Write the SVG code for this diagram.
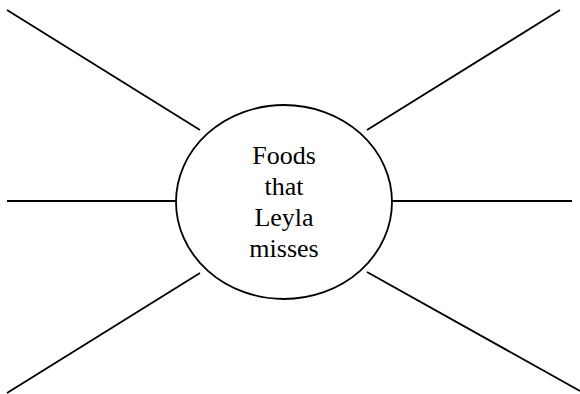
<svg xmlns="http://www.w3.org/2000/svg" width="580" height="394" viewBox="0 0 580 394">
<style>
.ln{stroke:#000;stroke-width:1.8;fill:none}
.t{font-family:"Liberation Serif","Times New Roman",serif;font-size:26px;fill:#000;text-anchor:middle}
</style>
<rect width="580" height="394" fill="#fff"/>
<g id="connectors">
<line class="ln" x1="7" y1="10" x2="200" y2="130"/>
<line class="ln" x1="560" y1="10" x2="367" y2="130"/>
<line class="ln" x1="7" y1="201" x2="176" y2="201"/>
<line class="ln" x1="392" y1="201" x2="572" y2="201"/>
<line class="ln" x1="7" y1="393" x2="200" y2="273"/>
<line class="ln" x1="367" y1="272" x2="580" y2="391"/>
</g>
<g id="center">
<ellipse class="ln" cx="284" cy="202" rx="108" ry="97"/>
<text class="t" x="284" y="164">Foods</text>
<text class="t" x="284" y="195">that</text>
<text class="t" x="284" y="226">Leyla</text>
<text class="t" x="284" y="257">misses</text>
</g>
</svg>
